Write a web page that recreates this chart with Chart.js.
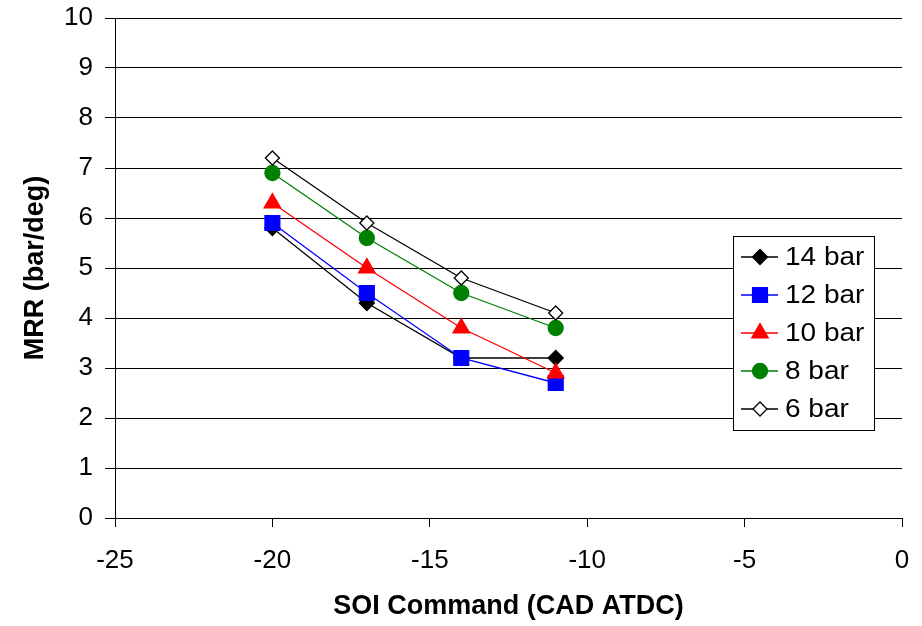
<!DOCTYPE html>
<html>
<head>
<meta charset="utf-8">
<script src="https://cdn.jsdelivr.net/npm/chart.js@4/dist/chart.umd.min.js"></script>
<style>
  body { margin: 0; background: #fff; }
  #wrap { width: 922px; height: 626px; position: relative; }
</style>
</head>
<body>
<div id="wrap"><canvas id="mrrChart"></canvas></div>
<script>
const soi = [-20, -17, -14, -11];
const mrr14 = [5.8, 4.3, 3.2, 3.2];
const mrr12 = [5.9, 4.5, 3.2, 2.7];
const mrr10 = [6.3, 5.0, 3.8, 2.9];
const mrr8 = [6.9, 5.6, 4.5, 3.8];
const mrr6 = [7.2, 5.9, 4.8, 4.1];
const seriesLabels = ['14 bar', '12 bar', '10 bar', '8 bar', '6 bar'];

const FONT = '"Liberation Sans", Arial, sans-serif';

const makeSet = (label, values, color, style, fill, radius) => ({
  label,
  data: soi.map((x, i) => ({ x, y: values[i] })),
  borderColor: color,
  borderWidth: 1.3,
  pointStyle: style,
  pointRadius: radius,
  pointBackgroundColor: fill,
  pointBorderColor: color,
  pointBorderWidth: 1.3,
  showLine: true,
  tension: 0
});

const datasets = [
  makeSet(seriesLabels[0], mrr14, '#000000', 'rectRot', '#000000', 7.5),
  makeSet(seriesLabels[1], mrr12, '#0000ff', 'rect', '#0000ff', 10.5),
  makeSet(seriesLabels[2], mrr10, '#ff0000', 'triangle', '#ff0000', 9.5),
  makeSet(seriesLabels[3], mrr8, '#008000', 'circle', '#008000', 7.5),
  makeSet(seriesLabels[4], mrr6, '#000000', 'rectRot', '#ffffff', 7)
];
// later series are drawn on top, like the original
datasets.forEach((d, i) => { d.order = datasets.length - i; });

// boxed legend inside the plot area
const boxLegend = {
  id: 'boxLegend',
  afterDraw(chart) {
    const ctx = chart.ctx;
    const x0 = 733, y0 = 236, w = 141, h = 194;
    ctx.save();
    ctx.fillStyle = '#fff';
    ctx.fillRect(x0, y0, w, h);
    ctx.strokeStyle = '#000';
    ctx.lineWidth = 1;
    ctx.strokeRect(x0 + 0.5, y0 + 0.5, w, h);
    ctx.font = '25px ' + FONT;
    ctx.textBaseline = 'middle';
    chart.data.datasets.forEach((ds, i) => {
      const y = y0 + 21 + i * 38;
      ctx.strokeStyle = ds.borderColor;
      ctx.lineWidth = 1.3;
      ctx.beginPath();
      ctx.moveTo(x0 + 8, y);
      ctx.lineTo(x0 + 45, y);
      ctx.stroke();
      ctx.fillStyle = ds.pointBackgroundColor;
      ctx.strokeStyle = ds.pointBorderColor;
      Chart.helpers.drawPoint(ctx, {
        pointStyle: ds.pointStyle,
        radius: ds.pointRadius,
        borderWidth: 1.3,
        rotation: 0
      }, x0 + 27, y);
      ctx.save();
      ctx.fillStyle = '#000';
      ctx.translate(x0 + 52, y + 1);
      ctx.scale(1.12, 1);
      ctx.fillText(ds.label, 0, 0);
      ctx.restore();
    });
    ctx.restore();
  }
};

new Chart(document.getElementById('mrrChart').getContext('2d'), {
  type: 'scatter',
  data: { datasets },
  options: {
    responsive: true,
    maintainAspectRatio: false,
    animation: false,
    layout: { padding: { top: 18, right: 20, left: 0, bottom: 0 } },
    plugins: { legend: { display: false }, tooltip: { enabled: false } },
    scales: {
      x: {
        type: 'linear',
        min: -25,
        max: 0,
        afterFit: s => { s.height = 108; s.paddingLeft = 0; s.paddingRight = 0; },
        ticks: { stepSize: 5, color: '#000', padding: 18, font: { family: FONT, size: 26 } },
        grid: { drawOnChartArea: false, drawTicks: true, tickLength: 9, color: '#000' },
        border: { color: '#000', width: 1 },
        title: {
          display: true,
          text: 'SOI Command (CAD ATDC)',
          color: '#000',
          font: { family: FONT, size: 27, weight: 'bold' },
          padding: { top: 10, bottom: 3 }
        }
      },
      y: {
        min: 0,
        max: 10,
        afterFit: s => { s.width = 115; s.paddingTop = 0; s.paddingBottom = 0; },
        ticks: { stepSize: 1, color: '#000', padding: 12, font: { family: FONT, size: 26 } },
        grid: { color: '#000', lineWidth: 1, tickLength: 10 },
        border: { color: '#000', width: 1 },
        title: {
          display: true,
          text: 'MRR (bar/deg)',
          color: '#000',
          font: { family: FONT, size: 27, weight: 'bold' },
          padding: { top: 19, bottom: 0 }
        }
      }
    }
  },
  plugins: [boxLegend]
});
</script>
</body>
</html>
